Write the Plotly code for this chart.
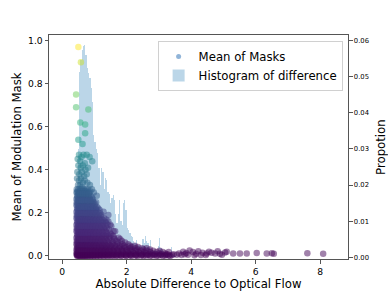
import plotly.graph_objects as go

# ---------------- Histogram of difference (bin centers, proportion) ----------------
hist_centers = [0.46, 0.50, 0.54, 0.58, 0.62, 0.66, 0.70, 0.74, 0.78, 0.82,
                0.86, 0.90, 0.94, 0.98, 1.02, 1.06, 1.10, 1.14, 1.18, 1.22,
                1.26, 1.30, 1.34, 1.38, 1.42, 1.46, 1.50, 1.54, 1.58, 1.62,
                1.66, 1.70, 1.74, 1.78, 1.82, 1.86, 1.90, 1.94, 1.98, 2.02,
                2.06, 2.10, 2.14, 2.18, 2.22, 2.26, 2.30, 2.34, 2.38, 2.42,
                2.46, 2.50, 2.54, 2.58, 2.62, 2.66, 2.70, 2.74, 2.78, 2.82,
                2.86, 2.90, 2.94, 2.98, 3.02, 3.06, 3.10, 3.14, 3.18, 3.22,
                3.26, 3.30, 3.34, 3.38, 3.42, 3.46, 3.50]
hist_props = [0.008, 0.030, 0.0514, 0.0546, 0.0574, 0.0585, 0.0588, 0.0560, 0.0525, 0.0510,
              0.0497, 0.0470, 0.0430, 0.0340, 0.0320, 0.0300, 0.0290, 0.0247, 0.0200, 0.0247,
              0.0237, 0.0190, 0.0220, 0.0214, 0.0180, 0.0175, 0.0150, 0.0165, 0.0172, 0.0158,
              0.0120, 0.0094, 0.0120, 0.0158, 0.0100, 0.0090, 0.0150, 0.0158, 0.0130, 0.0080,
              0.0075, 0.0067, 0.0060, 0.0055, 0.0045, 0.0040, 0.0047, 0.0028, 0.0035, 0.0020,
              0.0030, 0.0050, 0.0040, 0.0060, 0.0045, 0.0040, 0.0025, 0.0047, 0.0020, 0.0018,
              0.0015, 0.0020, 0.0018, 0.0030, 0.0053, 0.0025, 0.0020, 0.0015, 0.0012, 0.0010,
              0.0012, 0.0008, 0.0010, 0.0029, 0.0008, 0.0005, 0.0004]
hist_bin_width = 0.04

# ---------------- Mean of masks scatter ----------------
# sparse upper points
upper_x = [0.50, 0.58, 0.43, 0.43, 0.81, 0.56, 0.71, 0.71, 0.50, 0.63,
           0.52, 0.60, 0.66, 0.76, 0.85, 0.93, 0.55, 0.70, 0.48,
           0.50, 0.57, 0.64, 0.72, 0.80, 0.47, 0.53, 0.61, 0.68, 0.76,
           0.46, 0.52, 0.58, 0.64, 0.70, 0.78, 0.49, 0.55, 0.62, 0.86]
upper_y = [0.97, 0.90, 0.75, 0.69, 0.68, 0.62, 0.61, 0.57, 0.54, 0.52,
           0.47, 0.46, 0.47, 0.47, 0.46, 0.44, 0.44, 0.43, 0.45,
           0.42, 0.41, 0.42, 0.40, 0.41, 0.39, 0.38, 0.39, 0.37, 0.38,
           0.36, 0.35, 0.36, 0.34, 0.35, 0.34, 0.33, 0.33, 0.32, 0.33]

# dense cloud, read row by row (mean value of the row, x positions)
cloud_row_y = [0.31, 0.295, 0.28, 0.265, 0.25, 0.235, 0.22, 0.205, 0.19, 0.175,
               0.16, 0.145, 0.13, 0.115, 0.10, 0.085, 0.07, 0.055, 0.042, 0.03,
               0.018, 0.008, 0.0]
cloud_row_x = [
    [0.45, 0.50, 0.56, 0.61, 0.67, 0.73, 0.80, 0.92],
    [0.44, 0.48, 0.53, 0.59, 0.64, 0.70, 0.76, 0.84, 0.98],
    [0.46, 0.51, 0.57, 0.62, 0.68, 0.74, 0.81, 0.88, 1.07],
    [0.44, 0.49, 0.54, 0.60, 0.66, 0.72, 0.78, 0.86, 0.95],
    [0.45, 0.50, 0.56, 0.61, 0.67, 0.73, 0.80, 0.88, 0.97, 1.05],
    [0.44, 0.48, 0.53, 0.58, 0.64, 0.70, 0.76, 0.83, 0.91, 1.00],
    [0.46, 0.51, 0.56, 0.62, 0.68, 0.74, 0.80, 0.87, 0.95, 1.04, 1.12],
    [0.44, 0.49, 0.54, 0.59, 0.65, 0.71, 0.77, 0.84, 0.92, 1.00, 1.09, 1.28],
    [0.45, 0.50, 0.56, 0.61, 0.67, 0.73, 0.79, 0.86, 0.94, 1.03, 1.13, 1.22, 1.43],
    [0.44, 0.48, 0.53, 0.58, 0.64, 0.70, 0.76, 0.82, 0.89, 0.97, 1.06, 1.16, 1.30],
    [0.46, 0.51, 0.56, 0.62, 0.68, 0.74, 0.80, 0.87, 0.95, 1.03, 1.12, 1.22, 1.33, 1.43],
    [0.44, 0.49, 0.54, 0.59, 0.65, 0.71, 0.77, 0.84, 0.91, 0.99, 1.08, 1.17, 1.27, 1.40, 1.49],
    [0.45, 0.50, 0.56, 0.61, 0.67, 0.73, 0.79, 0.86, 0.93, 1.01, 1.10, 1.19, 1.30, 1.38],
    [0.44, 0.48, 0.53, 0.58, 0.64, 0.70, 0.76, 0.82, 0.89, 0.97, 1.05, 1.14, 1.24, 1.35, 1.59, 1.64],
    [0.46, 0.51, 0.56, 0.62, 0.68, 0.74, 0.80, 0.87, 0.94, 1.02, 1.10, 1.19, 1.29, 1.40, 1.52],
    [0.44, 0.49, 0.54, 0.59, 0.65, 0.71, 0.77, 0.84, 0.91, 0.99, 1.07, 1.16, 1.25, 1.36, 1.47, 1.60, 1.75],
    [0.45, 0.50, 0.56, 0.61, 0.67, 0.73, 0.79, 0.86, 0.93, 1.01, 1.09, 1.18, 1.28, 1.39, 1.54, 1.68, 1.85],
    [0.44, 0.48, 0.53, 0.58, 0.64, 0.70, 0.76, 0.82, 0.89, 0.97, 1.05, 1.14, 1.23, 1.33, 1.44, 1.56,
     1.70, 1.86, 2.05],
    [0.46, 0.51, 0.56, 0.62, 0.68, 0.74, 0.80, 0.87, 0.94, 1.02, 1.10, 1.19, 1.29, 1.40, 1.52, 1.65,
     1.80, 1.96, 2.15, 2.35],
    [0.44, 0.49, 0.54, 0.59, 0.65, 0.71, 0.77, 0.84, 0.91, 0.99, 1.07, 1.16, 1.25, 1.35, 1.46, 1.58,
     1.71, 1.85, 2.00, 2.16, 2.33, 2.52, 2.72],
    [0.45, 0.50, 0.56, 0.61, 0.67, 0.73, 0.79, 0.86, 0.93, 1.01, 1.09, 1.18, 1.28, 1.38, 1.49, 1.61,
     1.74, 1.88, 2.03, 2.19, 2.36, 2.54, 2.73, 2.93, 3.12, 3.30],
    [0.44, 0.48, 0.53, 0.58, 0.64, 0.70, 0.76, 0.82, 0.89, 0.97, 1.05, 1.14, 1.23, 1.33, 1.44, 1.56,
     1.69, 1.83, 1.98, 2.14, 2.31, 2.49, 2.68, 2.88, 3.08, 3.26, 3.45],
    [0.46, 0.51, 0.57, 0.63, 0.69, 0.75, 0.82, 0.90, 0.98, 1.07, 1.17, 1.28, 1.40, 1.53, 1.67, 1.82,
     1.98, 2.15, 2.33, 2.52, 2.72, 2.92, 3.12, 3.35],
]

# second pass over the dense core (points lying between the rows above)
core_row_y = [0.30, 0.272, 0.243, 0.213, 0.183, 0.153, 0.123, 0.093, 0.063, 0.036, 0.012, 0.004]
core_row_x = [
    [0.47, 0.53, 0.58, 0.65, 0.71, 0.78, 0.87],
    [0.47, 0.52, 0.57, 0.63, 0.69, 0.75, 0.83, 0.92],
    [0.46, 0.51, 0.55, 0.61, 0.67, 0.73, 0.79, 0.86, 0.94, 1.02],
    [0.47, 0.52, 0.57, 0.63, 0.69, 0.75, 0.82, 0.89, 0.97, 1.05, 1.16],
    [0.46, 0.51, 0.55, 0.61, 0.67, 0.73, 0.79, 0.86, 0.93, 1.01, 1.10, 1.20],
    [0.47, 0.52, 0.58, 0.63, 0.69, 0.75, 0.82, 0.89, 0.97, 1.06, 1.15, 1.26, 1.36],
    [0.46, 0.51, 0.55, 0.61, 0.67, 0.73, 0.79, 0.86, 0.93, 1.01, 1.10, 1.20, 1.31, 1.45],
    [0.47, 0.52, 0.58, 0.63, 0.69, 0.75, 0.82, 0.89, 0.97, 1.06, 1.15, 1.25, 1.35, 1.46, 1.58],
    [0.46, 0.51, 0.55, 0.61, 0.67, 0.73, 0.79, 0.86, 0.93, 1.01, 1.10, 1.20, 1.31, 1.43, 1.57, 1.73, 1.95],
    [0.47, 0.52, 0.58, 0.63, 0.69, 0.75, 0.82, 0.89, 0.97, 1.06, 1.15, 1.25, 1.36, 1.48, 1.62, 1.77,
     1.93, 2.10, 2.28, 2.48, 2.62],
    [0.46, 0.51, 0.55, 0.61, 0.67, 0.73, 0.79, 0.86, 0.93, 1.01, 1.10, 1.20, 1.31, 1.43, 1.57, 1.72,
     1.88, 2.05, 2.22, 2.40, 2.60, 2.80, 3.00, 3.20],
    [0.47, 0.52, 0.58, 0.63, 0.69, 0.75, 0.82, 0.89, 0.97, 1.06, 1.15, 1.25, 1.36, 1.48, 1.62, 1.77,
     1.93, 2.10, 2.28, 2.46, 2.64, 2.84, 3.04, 3.22, 3.40],
]

# third pass over the dense core
fill_row_y = [0.29, 0.258, 0.228, 0.198, 0.168, 0.138, 0.108, 0.078, 0.048, 0.024, 0.002]
fill_row_x = [
    [0.49, 0.55, 0.62, 0.69, 0.75, 0.82],
    [0.48, 0.54, 0.60, 0.66, 0.72, 0.79, 0.87, 0.94],
    [0.49, 0.55, 0.61, 0.67, 0.73, 0.80, 0.88, 0.96, 1.08],
    [0.48, 0.54, 0.60, 0.66, 0.72, 0.79, 0.87, 0.95, 1.05, 1.17],
    [0.49, 0.55, 0.61, 0.67, 0.73, 0.80, 0.88, 0.96, 1.05, 1.15, 1.25, 1.37],
    [0.48, 0.54, 0.60, 0.66, 0.72, 0.79, 0.87, 0.95, 1.04, 1.13, 1.23, 1.34, 1.52],
    [0.49, 0.55, 0.61, 0.67, 0.73, 0.80, 0.88, 0.96, 1.05, 1.15, 1.26, 1.38, 1.48],
    [0.48, 0.54, 0.60, 0.66, 0.72, 0.79, 0.87, 0.95, 1.04, 1.13, 1.23, 1.34, 1.45, 1.62, 1.80],
    [0.49, 0.55, 0.61, 0.67, 0.73, 0.80, 0.88, 0.96, 1.05, 1.15, 1.26, 1.38, 1.50, 1.63, 1.78, 1.92,
     2.10, 2.25],
    [0.48, 0.54, 0.60, 0.66, 0.72, 0.79, 0.87, 0.95, 1.04, 1.13, 1.23, 1.34, 1.45, 1.57, 1.70, 1.84,
     1.99, 2.12, 2.28, 2.44, 2.62, 2.82, 3.02],
    [0.48, 0.54, 0.60, 0.66, 0.72, 0.79, 0.87, 0.95, 1.04, 1.13, 1.23, 1.34, 1.45, 1.57, 1.70, 1.84,
     1.99, 2.12, 2.28, 2.44, 2.60, 2.78, 2.98, 3.18, 3.30],
]

# long tail of large differences
tail_x = [3.62, 3.75, 3.85, 3.95, 4.05, 4.15, 4.22, 4.35, 4.48, 4.55, 4.63, 4.74, 4.82,
          4.89, 5.05, 5.10, 5.30, 5.51, 5.72, 6.03, 6.34, 6.50, 6.56, 7.60, 8.09,
          3.70, 3.90, 4.10, 4.30, 4.45, 4.95, 3.55, 3.80]
tail_y = [0.012, 0.020, 0.014, 0.025, 0.018, 0.010, 0.022, 0.015, 0.012, 0.020, 0.015, 0.012, 0.022,
          0.010, 0.016, 0.020, 0.012, 0.012, 0.012, 0.014, 0.012, 0.013, 0.010, 0.013, 0.010,
          0.004, 0.006, 0.003, 0.005, 0.004, 0.006, 0.006, 0.008]

# assemble the scatter table
mask_x, mask_y = [], []
for xv, yv in zip(upper_x, upper_y):
    mask_x.append(xv); mask_y.append(yv)
for rows_y, rows_x in ((cloud_row_y, cloud_row_x), (core_row_y, core_row_x),
                       (fill_row_y, fill_row_x)):
    for yv, row in zip(rows_y, rows_x):
        for xv in row:
            mask_x.append(xv); mask_y.append(yv)
for xv, yv in zip(tail_x, tail_y):
    mask_x.append(xv); mask_y.append(yv)

FONT = "DejaVu Sans"
AXIS_COLOR = "#555555"

fig = go.Figure()

# histogram (drawn on base axis 'y', shown on right)
fig.add_trace(go.Bar(
    x=hist_centers, y=hist_props, width=hist_bin_width,
    marker=dict(color="rgba(31,119,180,0.3)", line=dict(width=0)),
    name="Histogram of difference", yaxis="y", legendrank=2,
))

# scatter on overlaying axis 'y2' (left) so it sits above the bars
fig.add_trace(go.Scatter(
    x=mask_x, y=mask_y, mode="markers", yaxis="y2",
    marker=dict(size=6.5, color=mask_y, colorscale="Viridis", cmin=0, cmax=0.97,
                opacity=0.5, line=dict(width=0)),
    showlegend=False, hoverinfo="skip",
))
# legend entry for scatter
fig.add_trace(go.Scatter(
    x=[None], y=[None], mode="markers", yaxis="y2",
    marker=dict(size=5, color="rgba(70,130,190,0.6)"),
    name="Mean of Masks", legendrank=1,
))

tickfont = dict(family=FONT, size=9.2, color="black")
tickfont_r = dict(family=FONT, size=6.8, color="black")
titlefont = dict(family=FONT, size=11.7, color="black")

common = dict(showgrid=False, zeroline=False, showline=True, linecolor=AXIS_COLOR, linewidth=1,
              ticks="outside", ticklen=3.5, tickwidth=0.8, tickcolor=AXIS_COLOR, automargin=False)

fig.update_layout(
    width=388, height=291,
    margin=dict(l=49, r=39.5, t=35, b=32),
    paper_bgcolor="white", plot_bgcolor="white",
    bargap=0, barmode="overlay",
    font=dict(family=FONT, color="black"),
    xaxis=dict(
        range=[-0.41, 8.86], tickvals=[0, 2, 4, 6, 8], ticktext=["0", "2", "4", "6", "8"],
        mirror=True, tickfont=tickfont,
        title=dict(text="Absolute Difference to Optical Flow", font=titlefont, standoff=3),
        **common,
    ),
    yaxis=dict(
        side="right", range=[-0.0005, 0.0616],
        tickvals=[0, 0.01, 0.02, 0.03, 0.04, 0.05, 0.06],
        ticktext=["0.00", "0.01", "0.02", "0.03", "0.04", "0.05", "0.06"],
        tickfont=tickfont_r, title=dict(text=""),
        **common,
    ),
    yaxis2=dict(
        side="left", overlaying="y", range=[-0.014, 1.026],
        tickvals=[0, 0.2, 0.4, 0.6, 0.8, 1.0],
        ticktext=["0.0", "0.2", "0.4", "0.6", "0.8", "1.0"],
        tickfont=tickfont,
        title=dict(text="Mean of Modulation Mask", font=titlefont, standoff=3),
        **common,
    ),
    legend=dict(
        x=0.982, xanchor="right", y=0.973, yanchor="top",
        bgcolor="rgba(255,255,255,0.8)", bordercolor="#d0d0d0", borderwidth=1,
        font=dict(family=FONT, size=11.7, color="black"),
        tracegroupgap=0,
    ),
    annotations=[dict(
        text="Propotion", textangle=-90, xref="paper", yref="paper",
        x=1.110, y=0.5, xanchor="center", yanchor="middle", showarrow=False,
        font=titlefont,
    )],
)

# remove the browser's default page margin so the 388x291 figure fills the window
fig.write_html("out.html", config={"displayModeBar": False},
               post_script="document.body.style.margin='0';")
